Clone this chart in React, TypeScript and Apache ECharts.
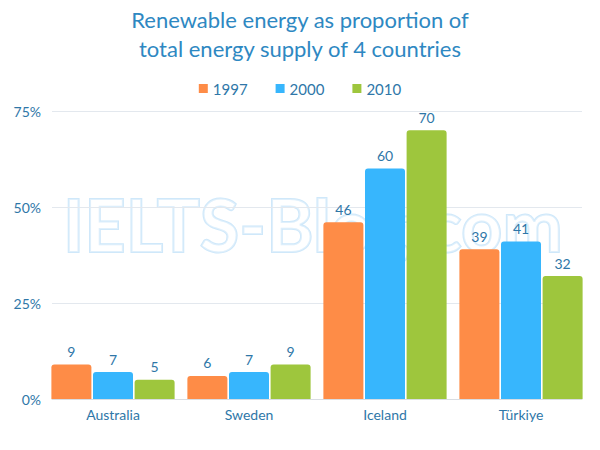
import { useEffect, useRef } from 'react';
import * as echarts from 'echarts';

const countries = ['Australia', 'Sweden', 'Iceland', 'Türkiye'];
const years = ['1997', '2000', '2010'];
const values1997 = [9, 6, 46, 39];
const values2000 = [7, 7, 60, 41];
const values2010 = [5, 9, 70, 32];
const yTicks = [0, 25, 50, 75];

const colors = ['#fe8c47', '#37b6fd', '#9ec63d'];
const textBlue = '#2f77a8';
const font = 'Lato, "Noto Sans", sans-serif';

export default function App() {
  const chartRef = useRef<HTMLDivElement>(null);

  useEffect(() => {
    if (!chartRef.current) return;
    const chart = echarts.init(chartRef.current, undefined, { renderer: 'svg' });

    const seriesData = [values1997, values2000, values2010];

    const option: echarts.EChartsOption = {
      animation: false,
      backgroundColor: '#ffffff',
      textStyle: { fontFamily: font },
      title: {
        text: 'Renewable energy as proportion of\ntotal energy supply of 4 countries',
        left: 'center',
        top: 0,
        textStyle: {
          color: '#2e88c2',
          fontSize: 22,
          fontWeight: 'normal',
          lineHeight: 29,
          fontFamily: font,
        },
      },
      legend: {
        data: years,
        top: 76,
        left: 'center',
        icon: 'rect',
        itemWidth: 9,
        itemHeight: 9,
        itemGap: 28,
        textStyle: { color: textBlue, fontSize: 15, fontFamily: font },
      },
      // faint outlined watermark behind the bars
      graphic: [
        {
          type: 'text',
          left: 62,
          top: 187,
          z: 0,
          silent: true,
          style: {
            text: 'IELTS-Blog.com',
            font: 'bold 72px Lato, sans-serif',
            fill: 'rgba(255,255,255,0.35)',
            stroke: '#cfe8fa',
            lineWidth: 2,
          },
        },
      ],
      grid: [
        { left: 52, right: 18, top: 111, bottom: 51 },
        { left: 45, right: 11, top: 111, bottom: 51 },
      ],
      xAxis: [
        {
          type: 'category',
          gridIndex: 0,
          data: countries,
          axisLine: { lineStyle: { color: '#d9dde2' } },
          axisTick: { show: false },
          axisLabel: { show: false },
        },
        {
          type: 'category',
          gridIndex: 1,
          data: countries,
          axisLine: { show: false },
          axisTick: { show: false },
          axisLabel: { color: textBlue, fontSize: 14, margin: 8, fontFamily: font },
        },
      ],
      yAxis: [
        {
          type: 'value',
          gridIndex: 0,
          min: yTicks[0],
          max: yTicks[yTicks.length - 1],
          interval: 25,
          axisLabel: {
            color: textBlue,
            fontSize: 14,
            margin: 11,
            fontFamily: font,
            formatter: '{value}%',
          },
          axisLine: { show: false },
          axisTick: { show: false },
          splitLine: { lineStyle: { color: '#e3e8ee' } },
        },
        {
          type: 'value',
          gridIndex: 1,
          min: yTicks[0],
          max: yTicks[yTicks.length - 1],
          interval: 25,
          axisLabel: { show: false },
          axisLine: { show: false },
          axisTick: { show: false },
          splitLine: { show: false },
        },
      ],
      series: years.map((year, i) => ({
        name: year,
        type: 'bar',
        xAxisIndex: 1,
        yAxisIndex: 1,
        data: seriesData[i],
        barGap: '4%',
        barCategoryGap: '9.4%',
        z: 3,
        itemStyle: { color: colors[i], borderRadius: [3, 3, 0, 0] },
        label: {
          show: true,
          position: 'top',
          distance: 6,
          color: textBlue,
          fontSize: 14,
          fontFamily: font,
        },
      })),
    };

    chart.setOption(option);

    return () => {
      chart.dispose();
    };
  }, []);

  return <div ref={chartRef} style={{ width: '600px', height: '450px', margin: '-8px' }} />;
}
